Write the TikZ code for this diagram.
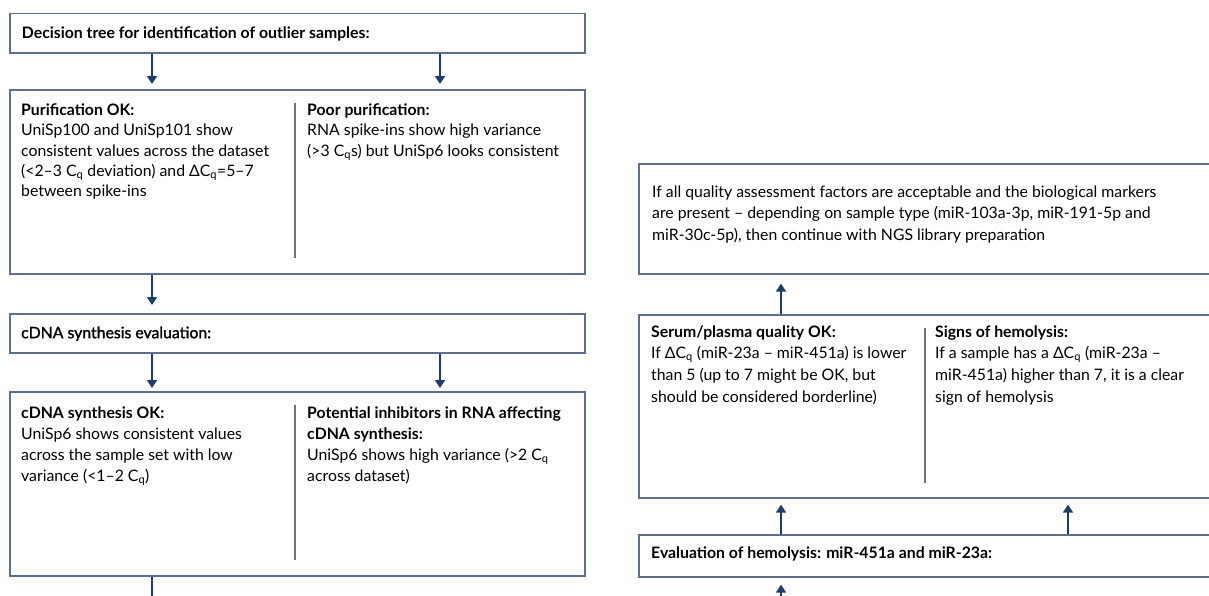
\documentclass[tikz,border=0pt]{standalone}
\usepackage{fontspec}
\setmainfont{Lato}
\newfontfamily\medfont[FakeBold=1.5]{Lato}
\usetikzlibrary{arrows.meta}
\definecolor{boxc}{HTML}{5E6F8D}
\definecolor{arrc}{HTML}{1F3A6B}
\definecolor{divc}{HTML}{6B7383}
\newcommand\Cq{C\textsubscript{q}}
\newcommand\dCq{ΔC\textsubscript{q}}
\newcommand\fst{\rule{0pt}{14pt}}
\begin{document}
\begin{tikzpicture}[x=1pt,y=-1pt,
  box/.style={draw=boxc,line width=1.6pt,inner sep=0pt,anchor=north west},
  txt/.style={anchor=north west,inner sep=0pt,align=left,font=\fontsize{15.8}{21}\selectfont},
  tight/.style={font=\fontsize{15.8}{20.4}\selectfont},
  loose/.style={font=\fontsize{15.8}{21.6}\selectfont},
  hd/.style={txt,font=\fontsize{15.8}{21}\selectfont\bfseries},
  arr/.style={draw=arrc,line width=1.4pt,-{Triangle[width=10pt,length=8pt]},shorten >=5pt},
  divider/.style={draw=divc,line width=1.2pt},
  edgeline/.style={draw=arrc,line width=1.4pt}]
\clip (0,0) rectangle (1209,595);
\useasboundingbox (0,0) rectangle (1209,595);
% column coordinates
\coordinate (cL) at (152,0);
\coordinate (cR) at (440,0);
\coordinate (dL) at (781,0);
\coordinate (dR) at (1068,0);
% ---------- left column ----------
\node[box,minimum width=575pt,minimum height=39.5pt] (top) at (9,12.5) {};
\node[hd] (toptxt) at (21.7,24) {\fst Decision tree for identification of outlier samples:};
\node[box,minimum width=575pt,minimum height=184pt] (pur) at (9,89) {};
\draw[divider] (295,103) -- (295,258);
\node[txt,tight] (purok) at (21,101) {\fst{\bfseries Purification OK:}\\
UniSp100 and UniSp101 show\\
consistent values across the dataset\\
(<2--3 \Cq{} deviation) and \dCq=5--7\\
between spike-ins};
\node[txt,tight] (purpoor) at (307,101) {\fst{\bfseries Poor purification:}\\
RNA spike-ins show high variance\\
(>3 \Cq s) but UniSp6 looks consistent};
\node[box,minimum width=575pt,minimum height=39pt] (eval) at (9,313) {};
\node[txt] (evaltxt) at (21,324) {\fst\medfont cDNA synthesis evaluation:};
\node[box,minimum width=575pt,minimum height=184pt] (cdna) at (9,391) {};
\draw[divider] (295,405) -- (295,560);
\node[txt] (cdnaok) at (21,404) {\fst{\bfseries cDNA synthesis OK:}\\
UniSp6 shows consistent values\\
across the sample set with low\\
variance (<1--2 \Cq)};
\node[txt] (cdnainh) at (307,404) {\fst{\bfseries Potential inhibitors in RNA affecting}\\
{\bfseries cDNA synthesis:}\\
UniSp6 shows high variance (>2 \Cq\\
across dataset)};
\coordinate (endL) at (152,600);
\draw[arr] (top.south -| cL) -- (pur.north -| cL);
\draw[arr] (top.south -| cR) -- (pur.north -| cR);
\draw[arr,shorten >=8pt] (pur.south -| cL) -- (eval.north -| cL);
\draw[arr,shorten >=3pt] (eval.south -| cL) -- (cdna.north -| cL);
\draw[arr,shorten >=3pt] (eval.south -| cR) -- (cdna.north -| cR);
\draw[edgeline] (cdna.south -| cL) -- (endL);
% ---------- right column ----------
\node[box,minimum width=590pt,minimum height=110pt] (ngs) at (638,163) {};
\node[txt,loose] (ngstxt) at (652,183) {\fst If all quality assessment factors are acceptable and the biological markers\\
are present -- depending on sample type (miR-103a-3p, miR-191-5p and\\
miR-30c-5p), then continue with NGS library preparation};
\node[box,minimum width=590pt,minimum height=183pt] (serum) at (638,314) {};
\draw[divider] (925,328) -- (925,483);
\node[txt,loose] (serumok) at (651,323) {\fst{\bfseries Serum/plasma quality OK:}\\
If \dCq{} (miR-23a -- miR-451a) is lower\\
than 5 (up to 7 might be OK, but\\
should be considered borderline)};
\node[txt,loose] (hemo) at (935,323) {\fst{\bfseries Signs of hemolysis:}\\
If a sample has a \dCq{} (miR-23a --\\
miR-451a) higher than 7, it is a clear\\
sign of hemolysis};
\node[box,minimum width=590pt,minimum height=42pt] (evalh) at (638,534) {};
\node[hd] (evalhtxt) at (651,544) {\fst Evaluation of hemolysis: miR-451a and miR-23a:};
\coordinate (startR) at (781,600);
\draw[arr,shorten >=9pt] (serum.north -| dL) -- (ngs.south -| dL);
\draw[arr,shorten >=6pt] (evalh.north -| dL) -- (serum.south -| dL);
\draw[arr,shorten >=6pt] (evalh.north -| dR) -- (serum.south -| dR);
\draw[arr,shorten >=7pt] (startR) -- (evalh.south -| dL);
\end{tikzpicture}
\end{document}
